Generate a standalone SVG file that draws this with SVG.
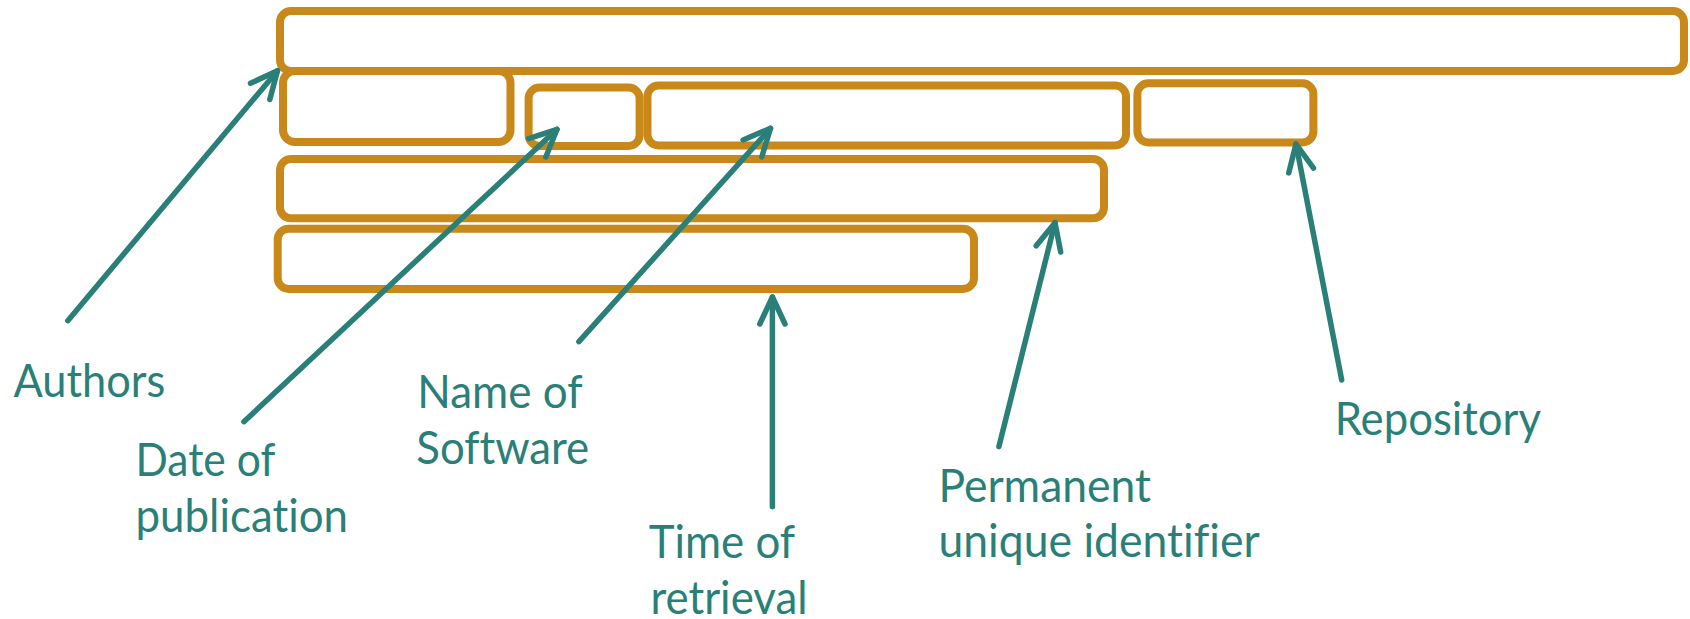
<svg xmlns="http://www.w3.org/2000/svg" width="1690" height="619" viewBox="0 0 1690 619">
<style>
.box{fill:none;stroke:#C8881A;stroke-width:8}
.arr{fill:none;stroke:#2A8078;stroke-width:5.5;stroke-linecap:round;marker-end:url(#head)}
.lbl{font-family:Lato,"Open Sans",sans-serif;font-size:46px;fill:#2A8078;font-variant-ligatures:none}
</style>
<defs>
<marker id="head" markerUnits="userSpaceOnUse" viewBox="-32 -16 36 32" refX="0" refY="0" markerWidth="36" markerHeight="32" orient="auto">
<path d="M-27,-12.6 L0,0 L-27,12.6" fill="none" stroke="#2A8078" stroke-width="5.5" stroke-linecap="round" stroke-linejoin="round"/>
</marker>
</defs>
<rect width="1690" height="619" fill="#fff"/>
<g id="box-title"><rect class="box" x="280" y="11" width="1404" height="60" rx="11"/></g>
<g id="box-authors"><rect class="box" x="283" y="71" width="227.5" height="71" rx="12"/></g>
<g id="box-date"><rect class="box" x="528.6" y="87.5" width="111" height="58.5" rx="11"/></g>
<g id="box-name"><rect class="box" x="647.5" y="85.5" width="478.5" height="60" rx="11"/></g>
<g id="box-repo"><rect class="box" x="1137.4" y="83.3" width="176" height="59.2" rx="11"/></g>
<g id="box-pid"><rect class="box" x="280" y="159" width="824" height="59.3" rx="11"/></g>
<g id="box-time"><rect class="box" x="277.7" y="228.7" width="696.3" height="60.3" rx="11"/></g>
<g id="connectors">
<line class="arr" x1="67.8" y1="320.7" x2="277.5" y2="70.7"/>
<line class="arr" x1="243.9" y1="421.7" x2="557" y2="129.3"/>
<line class="arr" x1="578.9" y1="341.7" x2="770.5" y2="128.3"/>
<line class="arr" x1="772.4" y1="506.7" x2="772.4" y2="297"/>
<line class="arr" x1="998.9" y1="446.7" x2="1055" y2="222.7"/>
<line class="arr" x1="1341.7" y1="380" x2="1296" y2="144"/>
</g>
<g id="label-authors"><text class="lbl" x="13.5" y="396.7" textLength="151.8" lengthAdjust="spacingAndGlyphs">Authors</text></g>
<g id="label-date"><text class="lbl" x="135.5" y="476" textLength="139.8" lengthAdjust="spacingAndGlyphs">Date of</text><text class="lbl" x="135.5" y="531.7" textLength="212.5" lengthAdjust="spacingAndGlyphs">publication</text></g>
<g id="label-name"><text class="lbl" x="417.3" y="408.3" textLength="165.3" lengthAdjust="spacingAndGlyphs">Name of</text><text class="lbl" x="416.3" y="464.3" textLength="172.9" lengthAdjust="spacingAndGlyphs">Software</text></g>
<g id="label-time"><text class="lbl" x="648.8" y="558.3" textLength="146.3" lengthAdjust="spacingAndGlyphs">Time of</text><text class="lbl" x="650.4" y="613.5" textLength="157.2" lengthAdjust="spacingAndGlyphs">retrieval</text></g>
<g id="label-pid"><text class="lbl" x="938.4" y="501.7" textLength="212.6" lengthAdjust="spacingAndGlyphs">Permanent</text><text class="lbl" x="938.4" y="557.3" textLength="321.3" lengthAdjust="spacingAndGlyphs">unique identifier</text></g>
<g id="label-repo"><text class="lbl" x="1334.7" y="435" textLength="206.3" lengthAdjust="spacingAndGlyphs">Repository</text></g>
</svg>
